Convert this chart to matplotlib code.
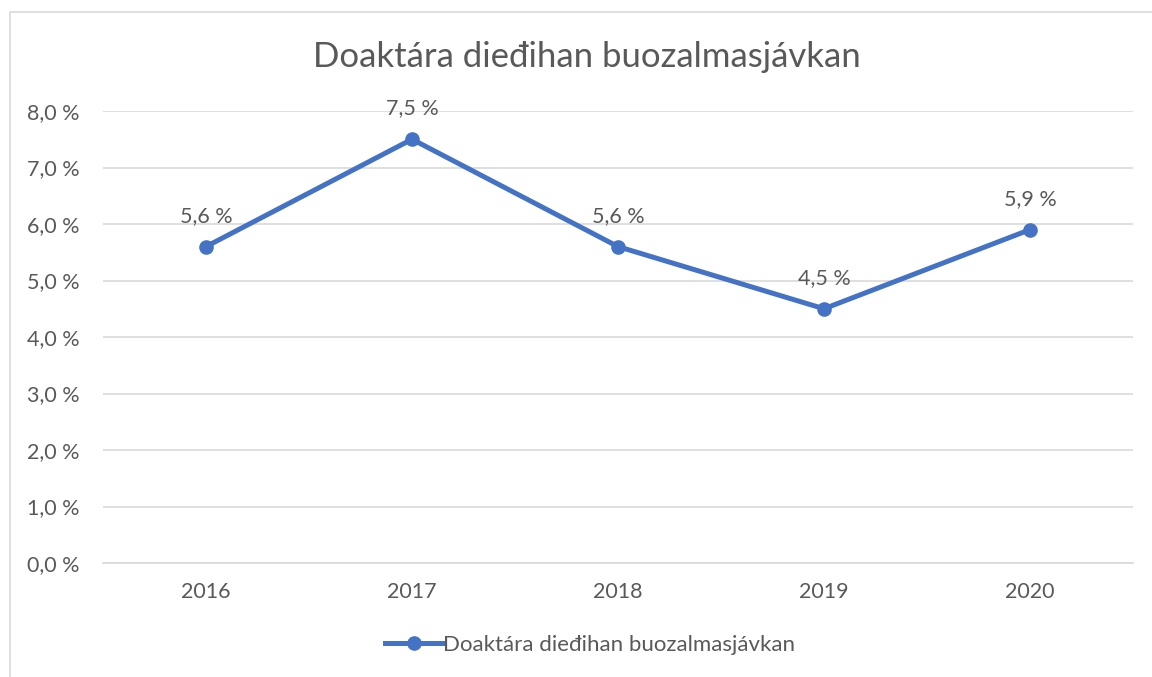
import matplotlib
matplotlib.use("Agg")
import matplotlib.pyplot as plt
from matplotlib.patches import Rectangle
from matplotlib.lines import Line2D

years = ["2016", "2017", "2018", "2019", "2020"]
values = [5.6, 7.5, 5.6, 4.5, 5.9]
series_name = "Doaktára dieđihan buozalmasjávkan"
title = "Doaktára dieđihan buozalmasjávkan"
yticks = [0, 1, 2, 3, 4, 5, 6, 7, 8]

plt.rcParams['font.family'] = ['Lato', 'DejaVu Sans']
txt = "#595959"
blue = "#4472C4"

W, H = 1152, 677
fig = plt.figure(figsize=(W/100, H/100), dpi=100)
fig.patches.append(Rectangle((10/W, -0.2), 1.2, 1.2 - 12/H, transform=fig.transFigure,
                             fill=False, edgecolor="#D9D9D9", linewidth=1.2))

ax = fig.add_axes([103/W, 1 - 563/H, (1133-103)/W, (563-111)/H])
x = list(range(len(years)))
ax.plot(x, values, color=blue, linewidth=3.6, marker="o", markersize=9.5,
        solid_capstyle="round", zorder=3)
for xi, v in zip(x, values):
    ax.annotate(f"{v:.1f} %".replace(".", ","), (xi, v), xytext=(0, 15),
                textcoords="offset points", ha="center", va="bottom",
                fontsize=15.5, color=txt)

ax.set_xlim(-0.5, len(years) - 0.5)
ax.set_ylim(0, 8)
ax.set_yticks(yticks)
ax.set_yticklabels([f"{t:.1f} %".replace(".", ",") for t in yticks])
ax.set_xticks(x)
ax.set_xticklabels(years)
ax.tick_params(axis="both", length=0, labelsize=15.5, labelcolor=txt)
ax.tick_params(axis="x", pad=14)
ax.tick_params(axis="y", pad=17)
ax.grid(axis="y", color="#D9D9D9", linewidth=1.2)
ax.set_axisbelow(True)
for s in ["left", "right", "top"]:
    ax.spines[s].set_visible(False)
ax.spines["bottom"].set_color("#D9D9D9")
ax.spines["bottom"].set_linewidth(1.2)

fig.text(587/W, 1 - 57/H, title, ha="center", va="center", fontsize=25, color=txt)

handle = Line2D([], [], color=blue, linewidth=3.6, marker="o", markersize=9.5)
fig.legend([handle], [series_name], loc="center", bbox_to_anchor=(590/W, 1 - 645/H),
           frameon=False, fontsize=16, labelcolor=txt, handlelength=2.6,
           handletextpad=0.0)

fig.savefig("out.png", dpi=100, facecolor="white")
